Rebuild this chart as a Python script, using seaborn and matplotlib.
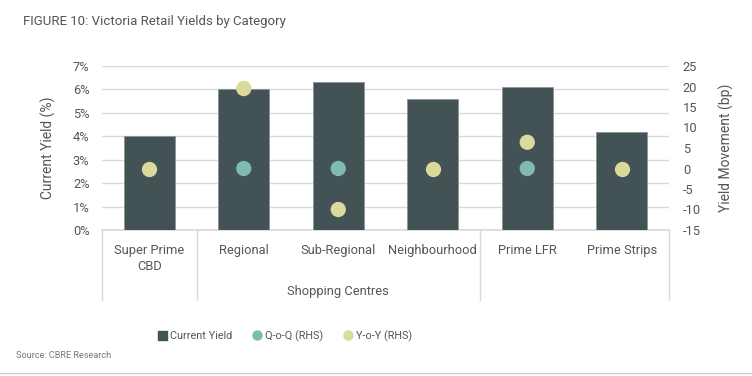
import numpy as np
import pandas as pd
import matplotlib
matplotlib.use("Agg")
import matplotlib.pyplot as plt
import matplotlib.transforms as mtransforms
from matplotlib.lines import Line2D
from matplotlib.patches import Patch
import seaborn as sns

# ---- data ----
categories = ["Super Prime CBD", "Regional", "Sub-Regional", "Neighbourhood", "Prime LFR", "Prime Strips"]
tick_labels = ["Super Prime\nCBD", "Regional", "Sub-Regional", "Neighbourhood", "Prime LFR", "Prime Strips"]
current_yield = [4.0, 6.0, 6.3, 5.6, 6.1, 4.2]          # %
qoq = [np.nan, 0, 0, np.nan, 0, np.nan]                 # bp
yoy = [0, 19.5, -10, 0, 6.4, 0]                          # bp
groups = [("", 0, 0), ("Shopping Centres", 1, 3), ("", 4, 5)]
left_ticks = [0, 1, 2, 3, 4, 5, 6, 7]
right_ticks = [-15, -10, -5, 0, 5, 10, 15, 20, 25]

BAR = "#435254"
QOQ = "#7fbcaf"
YOY = "#dbd99b"
GRID = "#d9d9d9"
TXT = "#555555"

sns.set_theme(style="white")
plt.rcParams["font.family"] = ["Roboto", "DejaVu Sans"]

fig = plt.figure(figsize=(7.52, 3.76), dpi=100)
ax = fig.add_axes([102/752, 1-230/376, (669-102)/752, (230-66)/376])

df_bar = pd.DataFrame({"cat": categories, "yield": current_yield})
sns.barplot(data=df_bar, x="cat", y="yield", order=categories, color=BAR,
            saturation=1, width=0.54, edgecolor="#8a9496", linewidth=0.6, ax=ax, zorder=3)

ax.set_ylim(0, 7)
ax.set_yticks(left_ticks)
ax.set_yticklabels([f"{t}%" for t in left_ticks])
ax.yaxis.grid(True, color=GRID, linewidth=1)
ax.set_axisbelow(True)
for s in ["top", "left", "right"]:
    ax.spines[s].set_visible(False)
ax.spines["bottom"].set_color(GRID)
ax.tick_params(axis="both", length=0, labelsize=9.3, labelcolor=TXT)
ax.tick_params(axis="y", pad=9)
ax.set_xticks(range(len(categories)))
ax.set_xticklabels(tick_labels, va="top", linespacing=1.3)
ax.tick_params(axis="x", pad=10)
ax.set_xlabel("")
ax.set_ylabel("Current Yield (%)", color=TXT, fontsize=10, labelpad=12)

ax2 = ax.twinx()
df_pts = pd.DataFrame({
    "cat": categories * 2,
    "val": qoq + yoy,
    "series": ["Q-o-Q (RHS)"] * len(categories) + ["Y-o-Y (RHS)"] * len(categories),
}).dropna()
sns.stripplot(data=df_pts, x="cat", y="val", hue="series", order=categories,
              palette={"Q-o-Q (RHS)": QOQ, "Y-o-Y (RHS)": YOY}, jitter=False,
              dodge=False, size=11, linewidth=0, ax=ax2, legend=False, zorder=5)
ax2.set_ylim(-15, 25)
ax2.set_yticks(right_ticks)
ax2.set_yticklabels([str(t) for t in right_ticks])
ax2.tick_params(axis="y", length=0, labelsize=9.3, labelcolor=TXT, pad=10)
ax2.set_ylabel("Yield Movement (bp)", color=TXT, fontsize=10, labelpad=13)
ax2.set_xlabel("")
for s in ax2.spines.values():
    s.set_visible(False)
ax.set_xlim(-0.5, len(categories) - 0.5)
ax2.set_xlim(-0.5, len(categories) - 0.5)

# group separators and labels
trans = mtransforms.blended_transform_factory(ax.transData, ax.transAxes)
bottom = -70/164
bounds = sorted(set([g[1] - 0.5 for g in groups] + [g[2] + 0.5 for g in groups]))
for b in bounds:
    ax.plot([b, b], [0, bottom], transform=trans, color=GRID, lw=1, clip_on=False)
for name, a, b in groups:
    if name:
        ax.text((a + b) / 2, -61/164, name, transform=trans, ha="center", va="center",
                fontsize=9.3, color=TXT)

# title and source
fig.text(23/752, 1-22/376, "FIGURE 10: Victoria Retail Yields by Category", fontsize=9.5,
         color=TXT, ha="left", va="center")
fig.text(16/752, 1-355/376, "Source: CBRE Research", fontsize=6.6, color="#777777",
         ha="left", va="center")
fig.add_artist(Line2D([0, 1], [1-373/376, 1-373/376], transform=fig.transFigure,
                      color="#cccccc", lw=1))

handles = [
    Patch(facecolor=BAR, edgecolor=BAR, label="Current Yield"),
    Line2D([], [], marker="o", ls="", color=QOQ, markersize=6.5, label="Q-o-Q (RHS)"),
    Line2D([], [], marker="o", ls="", color=YOY, markersize=6.5, label="Y-o-Y (RHS)"),
]
fig.legend(handles=handles, loc="center", bbox_to_anchor=(285/752, 1-336/376), ncol=3,
           frameon=False, fontsize=7.8, labelcolor=TXT,
           handlelength=0.8, handletextpad=0.3, columnspacing=1.9, handleheight=0.8)

fig.savefig("out.png", dpi=100)
